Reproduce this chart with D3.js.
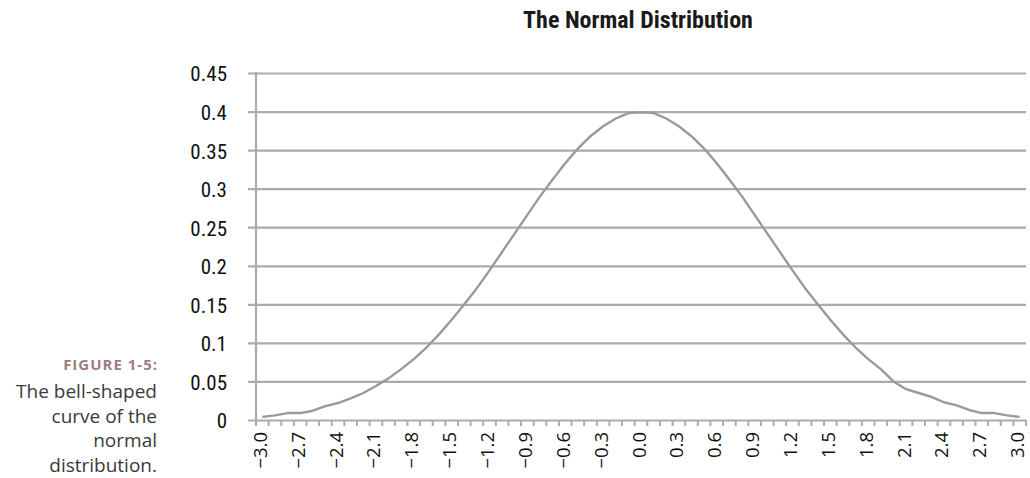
<!DOCTYPE html>
<html><head><meta charset="utf-8">
<script src="https://cdn.jsdelivr.net/npm/d3@7"></script>
<style>
body{margin:0;background:#fff;}
svg{display:block;}
</style></head>
<body>
<svg id="c" width="1030" height="478"></svg>
<script>
const categories = ["-3.0","-2.9","-2.8","-2.7","-2.6","-2.5","-2.4","-2.3","-2.2","-2.1","-2.0","-1.9","-1.8","-1.7","-1.6","-1.5","-1.4","-1.3","-1.2","-1.1","-1.0","-0.9","-0.8","-0.7","-0.6","-0.5","-0.4","-0.3","-0.2","-0.1","0.0","0.1","0.2","0.3","0.4","0.5","0.6","0.7","0.8","0.9","1.0","1.1","1.2","1.3","1.4","1.5","1.6","1.7","1.8","1.9","2.0","2.1","2.2","2.3","2.4","2.5","2.6","2.7","2.8","2.9","3.0"];
const density = [0.004,0.006,0.009,0.009,0.012,0.018,0.022,0.028,0.035,0.044,0.054,0.066,0.079,0.094,0.111,0.130,0.150,0.171,0.194,0.218,0.242,0.266,0.290,0.312,0.333,0.352,0.368,0.381,0.391,0.398,0.399,0.398,0.391,0.381,0.368,0.352,0.333,0.312,0.290,0.266,0.242,0.218,0.194,0.171,0.150,0.130,0.111,0.094,0.079,0.066,0.050,0.040,0.035,0.030,0.023,0.019,0.013,0.009,0.009,0.006,0.004];
const yTicks = [0,0.05,0.1,0.15,0.2,0.25,0.3,0.35,0.4,0.45];
const xLabelEvery = 3;
const title = "The Normal Distribution";
const captionLabel = "FIGURE 1-5:";
const captionLines = ["The bell-shaped","curve of the","normal","distribution."];

const svg = d3.select("#c");
const pLeft = 256, pRight = 1026, pTop = 73, pBottom = 420;
const x = d3.scaleBand().domain(categories).range([pLeft, pRight]).padding(0);
const y = d3.scaleLinear().domain([0, 0.45]).range([pBottom, pTop]);
const gridColor = "#ababae";
const condensed = "'Liberation Sans Narrow','Arial Narrow','Roboto Condensed',sans-serif";

// gridlines + y labels
const yAxis = d3.axisLeft(y).tickValues(yTicks).tickSize(0).tickPadding(0)
  .tickFormat(d => d === 0 ? "0" : String(+d.toFixed(2)));
const gy = svg.append("g").attr("transform", `translate(${pLeft - 8},0)`);
gy.call(yAxis);
gy.select(".domain").remove();
gy.selectAll(".tick line").attr("stroke", gridColor).attr("stroke-width", 2.2)
  .attr("x1", 0).attr("x2", pRight - pLeft + 8);
gy.selectAll(".tick text").attr("x", -21).attr("dy", "0.38em")
  .attr("font-family", condensed).attr("font-size", 21).attr("fill", "#111");

// y axis line
svg.append("line").attr("x1", pLeft).attr("x2", pLeft).attr("y1", pTop - 1).attr("y2", pBottom + 6)
  .attr("stroke", gridColor).attr("stroke-width", 2.2);

// x ticks at category boundaries
const bounds = categories.map(c => x(c)).concat([pRight]);
svg.append("g").selectAll("line").data(bounds).join("line")
  .attr("x1", d => d).attr("x2", d => d).attr("y1", pBottom).attr("y2", pBottom + 6)
  .attr("stroke", gridColor).attr("stroke-width", 2);

// x labels
svg.append("g").selectAll("text")
  .data(categories.filter((c, i) => i % xLabelEvery === 0))
  .join("text")
  .attr("transform", d => `translate(${x(d) + x.bandwidth() / 2 + 4.5},${pBottom + 12}) rotate(-90)`)
  .attr("text-anchor", "end")
  .attr("font-family", "'Open Sans',sans-serif").attr("font-size", 18.5).attr("fill", "#111")
  .text(d => d.replace("-", "\u2212"));

// curve
const line = d3.line().x((d, i) => x(categories[i]) + x.bandwidth() / 2).y(d => y(d));
svg.append("path").datum(density).attr("d", line)
  .attr("fill", "none").attr("stroke", "#9a9a9c").attr("stroke-width", 2.4).attr("stroke-linejoin", "round");

// title
svg.append("text").attr("x", 638).attr("y", 28).attr("text-anchor", "middle")
  .attr("font-family", condensed).attr("font-weight", "bold").attr("font-size", 24).attr("fill", "#1a1a1a")
  .text(title);

// caption
svg.append("text").attr("x", 158).attr("y", 370).attr("text-anchor", "end")
  .attr("font-family", "'Open Sans',sans-serif").attr("font-weight", "bold").attr("font-size", 15)
  .attr("letter-spacing", 1).attr("fill", "#9d7d7f").text(captionLabel);
svg.append("g").selectAll("text").data(captionLines).join("text")
  .attr("x", 157).attr("y", (d, i) => 398 + i * 24.5).attr("text-anchor", "end")
  .attr("font-family", "'Open Sans',sans-serif").attr("font-size", 19).attr("fill", "#3a3a3a")
  .text(d => d);
</script>
</body></html>
